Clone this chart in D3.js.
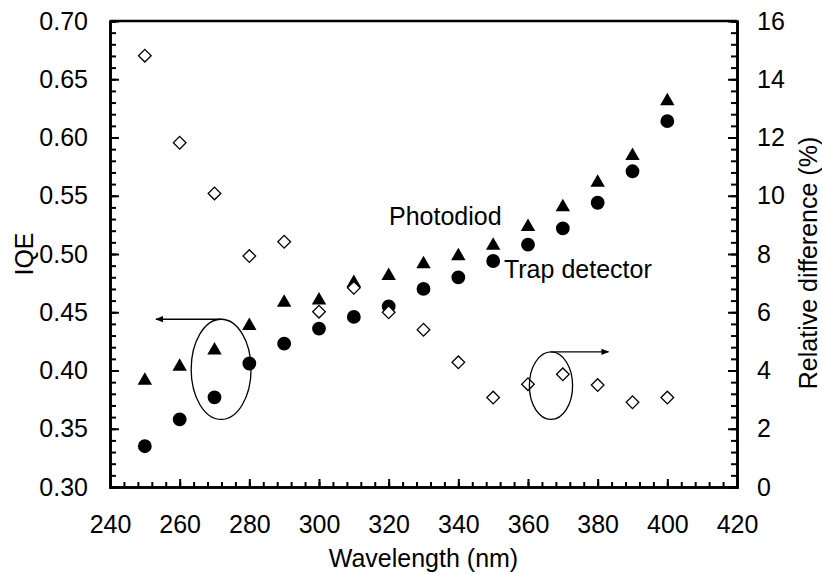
<!DOCTYPE html>
<html>
<head>
    <title>IQE vs Wavelength</title>
    <script src="https://d3js.org/d3.v7.min.js"></script>
    <style>
        body { margin: 0; background: #fff; }
        text { font-family: "Liberation Sans", Arial, sans-serif; fill: #000; }
    </style>
</head>
<body>
    <div id="chart"></div>

    <script>
        // Data
        var wavelengths = [250, 260, 270, 280, 290, 300, 310, 320, 330, 340, 350, 360, 370, 380, 390, 400];
        var photodiod   = [0.393, 0.405, 0.419, 0.440, 0.460, 0.462, 0.477, 0.483, 0.493, 0.500, 0.509, 0.525, 0.542, 0.563, 0.586, 0.633];
        var trapDet     = [0.335, 0.358, 0.377, 0.406, 0.423, 0.436, 0.446, 0.455, 0.470, 0.480, 0.494, 0.508, 0.522, 0.544, 0.571, 0.614];
        var relDiff     = [14.81, 11.82, 10.08, 7.93, 8.42, 6.02, 6.84, 6.0, 5.4, 4.28, 3.07, 3.53, 3.87, 3.50, 2.91, 3.07];

        // Tick labels
        var xTicks = [240, 260, 280, 300, 320, 340, 360, 380, 400, 420];
        var yTicks = [0.30, 0.35, 0.40, 0.45, 0.50, 0.55, 0.60, 0.65, 0.70];
        var y2Ticks = [0, 2, 4, 6, 8, 10, 12, 14, 16];

        var margin = { top: 21, right: 85, bottom: 87, left: 110 };
        var width = 822 - margin.left - margin.right;
        var height = 574 - margin.top - margin.bottom;

        var svg = d3.select("#chart")
            .append("svg")
            .attr("width", 822)
            .attr("height", 574)
            .append("g")
            .attr("transform", "translate(" + margin.left + "," + margin.top + ")");

        var x = d3.scaleLinear().domain([240, 420]).range([0, width]);
        var y = d3.scaleLinear().domain([0.30, 0.70]).range([height, 0]);
        var y2 = d3.scaleLinear().domain([0, 16]).range([height, 0]);

        var fontSize = "25px";

        // minor ticks
        svg.append("g")
            .attr("class", "minor")
            .call(d3.axisLeft(y).tickValues(d3.range(0.30, 0.705, 0.01)).tickSize(-6).tickFormat(""));
        svg.append("g")
            .attr("class", "minor")
            .attr("transform", "translate(0," + height + ")")
            .call(d3.axisBottom(x).tickValues(d3.range(240, 421, 4)).tickSize(-5).tickFormat(""));
        svg.append("g")
            .attr("class", "minor")
            .attr("transform", "translate(" + width + ",0)")
            .call(d3.axisRight(y2).tickValues(d3.range(0, 16.01, 0.4)).tickSize(-6).tickFormat(""));

        // major axes
        svg.append("g")
            .attr("class", "y-axis")
            .call(d3.axisLeft(y).tickValues(yTicks).tickSizeInner(-9).tickSizeOuter(0)
                .tickPadding(22).tickFormat(d3.format(".2f")));
        svg.append("g")
            .attr("class", "x-axis")
            .attr("transform", "translate(0," + height + ")")
            .call(d3.axisBottom(x).tickValues(xTicks).tickSizeInner(-8).tickSizeOuter(0)
                .tickPadding(28).tickFormat(d3.format("d")));
        svg.append("g")
            .attr("class", "y2-axis")
            .attr("transform", "translate(" + width + ",0)")
            .call(d3.axisRight(y2).tickValues(y2Ticks).tickSizeInner(-9).tickSizeOuter(0)
                .tickPadding(20).tickFormat(d3.format("d")));

        svg.selectAll(".domain").attr("stroke", "#000").attr("stroke-width", 2.6);
        svg.selectAll(".tick line").attr("stroke", "#000").attr("stroke-width", 2);
        svg.selectAll(".tick text").style("font-size", fontSize);

        // top frame
        svg.append("line")
            .attr("x1", 0).attr("x2", width)
            .attr("y1", 0).attr("y2", 0)
            .attr("stroke", "#000").attr("stroke-width", 2.6);

        // axis titles
        svg.append("text")
            .attr("x", width / 2)
            .attr("y", height + 80)
            .attr("text-anchor", "middle")
            .style("font-size", fontSize)
            .text("Wavelength (nm)");
        svg.append("text")
            .attr("transform", "translate(" + (33 - margin.left) + "," + height / 2 + ") rotate(-90)")
            .attr("text-anchor", "middle")
            .style("font-size", fontSize)
            .text("IQE");
        svg.append("text")
            .attr("transform", "translate(" + (width + 80) + "," + (height / 2 + 9) + ") rotate(-90)")
            .attr("text-anchor", "middle")
            .style("font-size", fontSize)
            .text("Relative difference (%)");

        // markers
        var tri = d3.symbol().type(d3.symbolTriangle).size(90);
        var dot = d3.symbol().type(d3.symbolCircle).size(150);
        var dia = d3.symbol().type(d3.symbolSquare).size(80);

        svg.selectAll(".tri")
            .data(wavelengths)
            .enter()
            .append("path")
            .attr("class", "tri")
            .attr("d", tri)
            .attr("transform", function(d, i) { return "translate(" + x(d) + "," + (y(photodiod[i]) + 2) + ")"; })
            .attr("fill", "#000");

        svg.selectAll(".dot")
            .data(wavelengths)
            .enter()
            .append("path")
            .attr("class", "dot")
            .attr("d", dot)
            .attr("transform", function(d, i) { return "translate(" + x(d) + "," + y(trapDet[i]) + ")"; })
            .attr("fill", "#000");

        svg.selectAll(".dia")
            .data(wavelengths)
            .enter()
            .append("path")
            .attr("class", "dia")
            .attr("d", dia)
            .attr("transform", function(d, i) { return "translate(" + x(d) + "," + y2(relDiff[i]) + ") rotate(45)"; })
            .attr("fill", "#fff")
            .attr("stroke", "#000")
            .attr("stroke-width", 1.3);

        // annotations: ellipses with arrows pointing to their axis
        svg.append("defs").append("marker")
            .attr("id", "head")
            .attr("viewBox", "0 0 10 10")
            .attr("refX", 9).attr("refY", 5)
            .attr("markerWidth", 7).attr("markerHeight", 6)
            .attr("orient", "auto")
            .append("path")
            .attr("d", "M0,1L10,5L0,9Z")
            .attr("fill", "#000");

        var notes = [
            { cx: 271.9, cy: 0.401, rx: 8.6, ry: 0.043, to: 253.2 },
            { cx: 366.6, cy: 0.387, rx: 6.2, ry: 0.029, to: 383.1 }
        ];
        notes.forEach(function(n) {
            var cx = x(n.cx), cy = y(n.cy);
            var rx = x(n.cx + n.rx) - cx, ry = cy - y(n.cy + n.ry);
            svg.append("ellipse")
                .attr("cx", cx).attr("cy", cy)
                .attr("rx", rx).attr("ry", ry)
                .attr("fill", "none").attr("stroke", "#000").attr("stroke-width", 1.3);
            svg.append("line")
                .attr("x1", cx).attr("y1", cy - ry)
                .attr("x2", x(n.to)).attr("y2", cy - ry)
                .attr("stroke", "#000").attr("stroke-width", 1.3)
                .attr("marker-end", "url(#head)");
        });

        svg.append("text")
            .attr("x", x(320.1)).attr("y", y(0.525))
            .style("font-size", fontSize)
            .text("Photodiod");
        svg.append("text")
            .attr("x", x(353.1)).attr("y", y(0.4794))
            .style("font-size", fontSize)
            .text("Trap detector");
    </script>
</body>
</html>
